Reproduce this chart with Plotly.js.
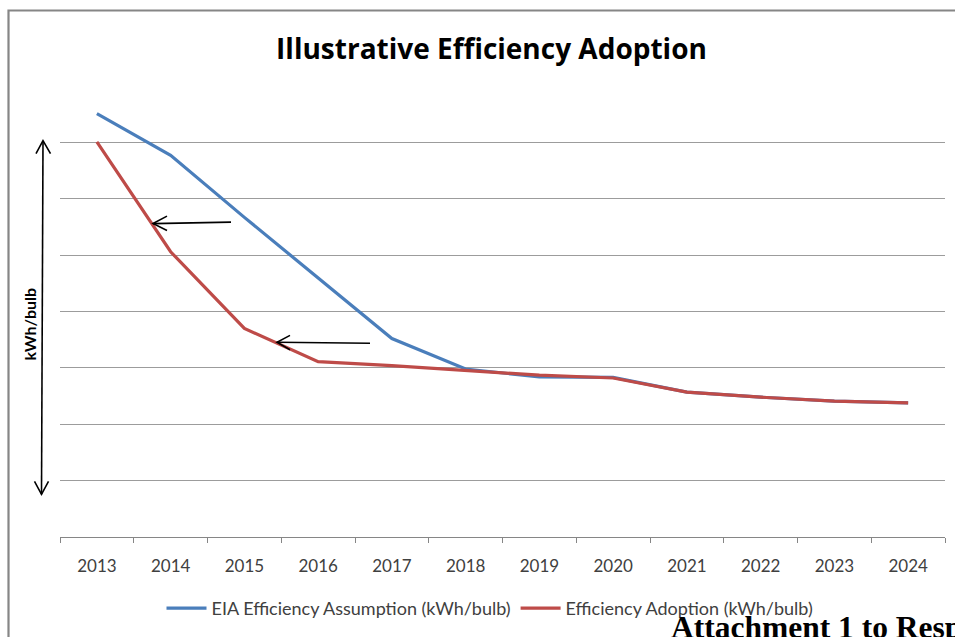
<!DOCTYPE html>
<html>
<head>
<meta charset="utf-8">
<script src="https://cdn.plot.ly/plotly-3.0.1.min.js"></script>
<style>
  html, body { margin: 0; padding: 0; background: #ffffff; }
  #chart { width: 955px; height: 637px; }
</style>
</head>
<body>
<div id="chart"></div>
<script>
// Years on the category axis
const years = ["2013", "2014", "2015", "2016", "2017", "2018",
               "2019", "2020", "2021", "2022", "2023", "2024"];

// Illustrative consumption per bulb (relative units, no scale shown)
const eiaAssumption = [7.51, 6.77, 5.67, 4.60, 3.52, 2.98,
                       2.84, 2.83, 2.57, 2.48, 2.41, 2.38];
const efficiencyAdoption = [7.01, 5.06, 3.70, 3.11, 3.04, 2.96,
                            2.87, 2.82, 2.57, 2.48, 2.41, 2.38];

const seriesNames = ["EIA Efficiency Assumption (kWh/bulb)",
                     "Efficiency Adoption (kWh/bulb)"];

// Plot area in pixels: left 60, right 945, top 86, bottom 540
const PL = 60, PR = 945, PT = 86, PB = 540;
const px = v => (v - PL) / (PR - PL);
const py = v => (PB - v) / (PB - PT);
const pt = (x, y) => px(x).toFixed(5) + "," + py(y).toFixed(5);

const traces = [
  {
    x: years, y: eiaAssumption, name: seriesNames[0],
    type: "scatter", mode: "lines",
    line: { color: "#4a7ebb", width: 3.2 }
  },
  {
    x: years, y: efficiencyAdoption, name: seriesNames[1],
    type: "scatter", mode: "lines",
    line: { color: "#be4b48", width: 3.2 }
  }
];

const black = { color: "#000000", width: 1.6 };
const shapes = [
  // outer chart frame
  { type: "rect", xref: "paper", yref: "paper",
    x0: px(8.5), x1: px(975), y0: py(660), y1: py(10),
    line: { color: "#868686", width: 2.2 }, fillcolor: "rgba(0,0,0,0)", layer: "below" },
  // double-headed arrow beside the axis title
  { type: "path", xref: "paper", yref: "paper",
    path: "M" + pt(43, 142) + " L" + pt(41.5, 497), line: black },
  { type: "path", xref: "paper", yref: "paper",
    path: "M" + pt(36, 154) + " L" + pt(43, 141) + " L" + pt(50.5, 154), line: black },
  { type: "path", xref: "paper", yref: "paper",
    path: "M" + pt(34.5, 484) + " L" + pt(41.5, 497) + " L" + pt(48.5, 484), line: black },
  // arrow pointing at the adoption curve (upper)
  { type: "path", xref: "paper", yref: "paper",
    path: "M" + pt(231, 223) + " L" + pt(153, 224.5), line: black },
  { type: "path", xref: "paper", yref: "paper",
    path: "M" + pt(167, 217) + " L" + pt(153, 224.5) + " L" + pt(167, 231.5), line: black },
  // arrow pointing at the adoption curve (lower)
  { type: "path", xref: "paper", yref: "paper",
    path: "M" + pt(370, 345) + " L" + pt(277, 344), line: black },
  { type: "path", xref: "paper", yref: "paper",
    path: "M" + pt(290, 337) + " L" + pt(277, 344) + " L" + pt(290, 351.5), line: black }
];

const layout = {
  width: 955, height: 637,
  margin: { l: PL, r: 955 - PR, t: PT, b: 637 - PB, pad: 0 },
  paper_bgcolor: "#ffffff",
  plot_bgcolor: "#ffffff",
  font: { family: "Lato, 'Open Sans', sans-serif", color: "#404040", size: 17 },
  title: {
    text: "Illustrative Efficiency Adoption",
    font: { family: "'Open Sans', sans-serif", size: 28, weight: "bold", color: "#000000" },
    xref: "paper", x: px(491.5), xanchor: "center",
    yref: "container", y: 1 - 49 / 637, yanchor: "middle"
  },
  xaxis: {
    type: "category",
    categoryorder: "array", categoryarray: years,
    range: [-0.5, 11.5],
    showgrid: false, zeroline: false,
    showline: true, linecolor: "#868686", linewidth: 1,
    ticks: "outside", tickson: "boundaries", ticklen: 5,
    tickcolor: "#868686", tickwidth: 1,
    ticklabelstandoff: 14,
    tickfont: { size: 17, color: "#404040" },
    fixedrange: true
  },
  yaxis: {
    range: [0, 8], dtick: 1, tick0: 0,
    showticklabels: false, ticks: "",
    showgrid: true, gridcolor: "#9c9c9c", gridwidth: 1,
    zeroline: false, showline: false,
    fixedrange: true
  },
  legend: {
    orientation: "h",
    x: px(490), xanchor: "center",
    y: py(612), yanchor: "middle",
    font: { size: 18, color: "#404040" },
    bgcolor: "rgba(0,0,0,0)",
    itemwidth: 40,
    traceorder: "normal"
  },
  shapes: shapes,
  annotations: [
    {
      // axis caption for the unlabelled value scale
      text: "kWh/bulb",
      xref: "paper", yref: "paper",
      x: px(29), xanchor: "center",
      y: py(326), yanchor: "middle",
      textangle: -90, showarrow: false,
      font: { family: "Lato, sans-serif", size: 16, weight: "bold", color: "#000000" }
    },
    {
      text: "Attachment 1 to Response",
      xref: "paper", yref: "paper",
      x: px(669), xanchor: "left",
      y: py(611), yanchor: "top",
      showarrow: false,
      font: { family: "'Liberation Serif', 'Times New Roman', serif", size: 31.5,
              weight: "bold", color: "#000000" }
    }
  ],
  showlegend: true
};

Plotly.newPlot("chart", traces, layout, { displayModeBar: false, staticPlot: true });
</script>
</body>
</html>
